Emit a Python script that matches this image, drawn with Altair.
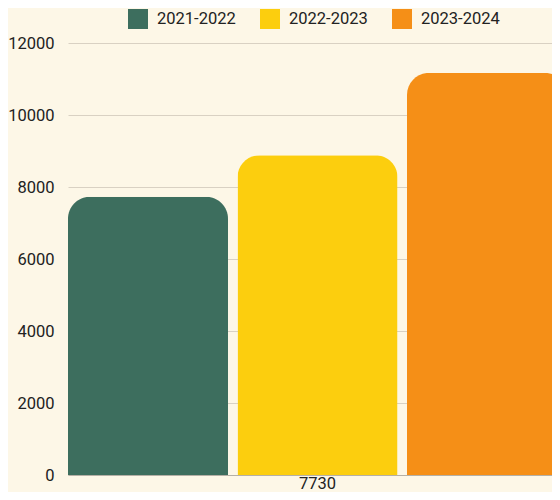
import altair as alt
import pandas as pd

categories = ["7730"]
series = ["2021-2022", "2022-2023", "2023-2024"]
values = [7730, 8880, 11170]
colors = ["#3d6e5e", "#fcce0e", "#f58f17"]

df = pd.DataFrame({
    "cat": categories * len(series),
    "series": series,
    "value": values,
})

FONT = "Roboto"
BG = "#fdf7e7"

chart = alt.Chart(df).mark_bar(
    cornerRadiusTopLeft=22,
    cornerRadiusTopRight=22,
).encode(
    x=alt.X("cat:N", title=None,
            scale=alt.Scale(paddingInner=0, paddingOuter=0),
            axis=alt.Axis(labelAngle=0, ticks=False, domain=True,
                          domainColor="#b5b0a6", domainWidth=1,
                          labelPadding=0, labelFontSize=16.5, labelFont=FONT,
                          labelColor="#222222", grid=False)),
    xOffset=alt.XOffset("series:N", sort=series,
                        scale=alt.Scale(paddingInner=0.056, paddingOuter=0)),
    y=alt.Y("value:Q", title=None,
            scale=alt.Scale(domain=[0, 12000], nice=False),
            axis=alt.Axis(values=[0, 2000, 4000, 6000, 8000, 10000, 12000],
                          format="d", domain=False, ticks=False,
                          labelPadding=14, labelFontSize=16.5, labelFont=FONT,
                          labelColor="#222222", grid=True,
                          gridColor="#d9d1c3", gridWidth=1)),
    color=alt.Color("series:N", sort=series,
                    scale=alt.Scale(domain=series, range=colors),
                    legend=alt.Legend(title=None, orient="none",
                                      direction="horizontal",
                                      legendX=60, legendY=-34,
                                      symbolType="square", symbolSize=400,
                                      symbolStrokeWidth=0, labelOffset=9,
                                      columnPadding=24, labelFontSize=16.5,
                                      labelFont=FONT, labelColor="#222222",
                                      padding=0)),
).properties(
    width=499,
    height=432,
    background=BG,
    padding={"left": 60, "top": 35, "right": -15, "bottom": 17},
    autosize=alt.AutoSizeParams(type="none"),
).configure_view(
    stroke=None,
)

chart.save("out.html", embed_options={"renderer": "svg", "actions": False})
